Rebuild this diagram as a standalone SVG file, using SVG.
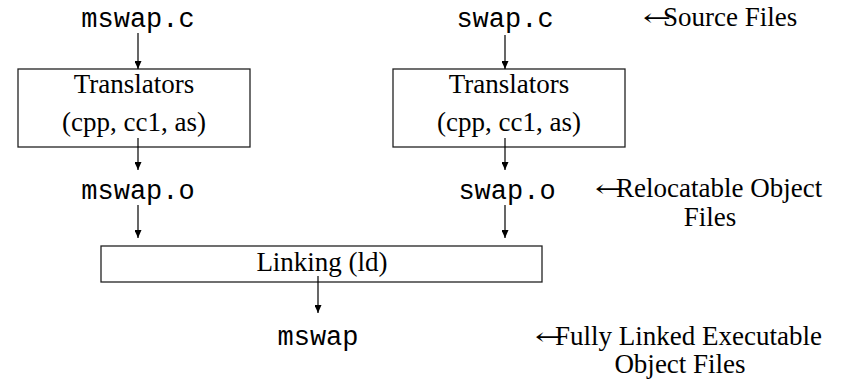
<svg xmlns="http://www.w3.org/2000/svg" width="845" height="382" viewBox="0 0 845 382">
<style>
.mono{font-family:"Liberation Mono","Courier New",monospace;font-size:27px;fill:#000;text-anchor:middle}
.serif{font-family:"Liberation Serif","Times New Roman",serif;font-size:27px;fill:#000}
.arrow{font-family:"DejaVu Serif","Liberation Serif",serif;font-size:24px;fill:#000}
.mid{text-anchor:middle}
.box{fill:none;stroke:#222;stroke-width:1.3}
.conn{stroke:#000;stroke-width:1.2;fill:none;marker-end:url(#ah)}
</style>
<defs>
<marker id="ah" markerUnits="userSpaceOnUse" markerWidth="8" markerHeight="7" refX="8" refY="3.5" orient="auto">
<path d="M0,0 L8,3.5 L0,7 z" fill="#000"/>
</marker>
</defs>
<rect width="845" height="382" fill="#fff"/>
<g id="mswap_c"><text class="mono" x="138" y="27">mswap.c</text></g>
<g id="swap_c"><text class="mono" x="505" y="27">swap.c</text></g>
<g id="translators1">
<rect class="box" x="18" y="69" width="232" height="78"/>
<text class="serif mid" x="134" y="93">Translators</text>
<text class="serif mid" x="134" y="131">(cpp, cc1, as)</text>
</g>
<g id="translators2">
<rect class="box" x="393" y="69" width="232" height="78"/>
<text class="serif mid" x="509" y="93">Translators</text>
<text class="serif mid" x="509" y="131">(cpp, cc1, as)</text>
</g>
<g id="mswap_o"><text class="mono" x="138" y="199">mswap.o</text></g>
<g id="swap_o"><text class="mono" x="507" y="199">swap.o</text></g>
<g id="linking">
<rect class="box" x="101" y="246" width="441" height="36"/>
<text class="serif mid" x="322" y="271">Linking (ld)</text>
</g>
<g id="mswap"><text class="mono" x="318" y="345">mswap</text></g>
<g id="label_source">
<text class="arrow" x="643" y="26" textLength="28" lengthAdjust="spacingAndGlyphs">←</text>
<text class="serif" x="663" y="26">Source Files</text>
</g>
<g id="label_reloc">
<text class="arrow" x="595" y="197" textLength="28" lengthAdjust="spacingAndGlyphs">←</text>
<text class="serif" x="616" y="197">Relocatable Object</text>
<text class="serif mid" x="710" y="226">Files</text>
</g>
<g id="label_exec">
<text class="arrow" x="535" y="345" textLength="28" lengthAdjust="spacingAndGlyphs">←</text>
<text class="serif" x="555" y="345">Fully Linked Executable</text>
<text class="serif mid" x="680" y="373">Object Files</text>
</g>
<g id="connectors">
<line class="conn" x1="138" y1="33" x2="138" y2="69"/>
<line class="conn" x1="505" y1="35" x2="505" y2="69"/>
<line class="conn" x1="138" y1="138" x2="138" y2="170"/>
<line class="conn" x1="505" y1="138" x2="505" y2="170"/>
<line class="conn" x1="138" y1="205" x2="138" y2="238"/>
<line class="conn" x1="505" y1="205" x2="505" y2="238"/>
<line class="conn" x1="318" y1="276" x2="318" y2="313"/>
</g>
</svg>
